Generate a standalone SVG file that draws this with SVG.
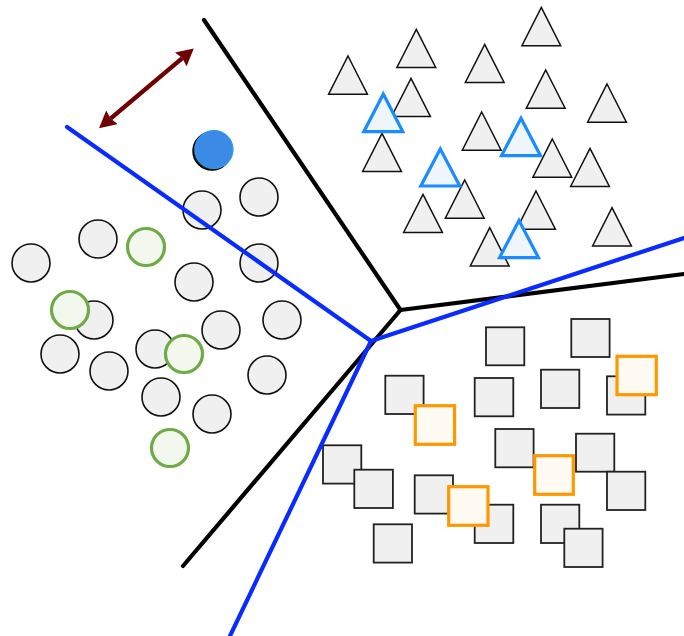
<svg xmlns="http://www.w3.org/2000/svg" width="684" height="636" viewBox="0 0 684 636">
<style>
.c{fill:#f0f0f0;stroke:#111;stroke-width:1.6}
.cg{fill:#f2f8ee;stroke:#6fab45;stroke-width:3.2}
.t{fill:#f0f0f0;stroke:#111;stroke-width:1.5;stroke-linejoin:miter}
.tb{fill:#eef6fc;stroke:#1a8cff;stroke-width:3.2;stroke-linejoin:miter}
.s{fill:#f0f0f0;stroke:#222;stroke-width:1.8}
.so{fill:#fffbf3;stroke:#ff9800;stroke-width:3.2}
.bk{stroke:#000;stroke-width:4.2;fill:none;stroke-linecap:round;stroke-linejoin:round}
.bl{stroke:#0a2bff;stroke-width:4.2;fill:none;stroke-linecap:round;stroke-linejoin:round}
</style>
<defs>
<marker id="ah" viewBox="0 0 17 18" refX="2" refY="9" markerWidth="17" markerHeight="18" markerUnits="userSpaceOnUse" orient="auto-start-reverse">
<path d="M0,0 L17,9 L0,18 L2,9 z" fill="#700000"/>
</marker>
</defs>
<g id="circles">
<circle class="c" cx="259" cy="197" r="19"/>
<circle class="c" cx="202" cy="210" r="19"/>
<circle class="c" cx="98" cy="239" r="19"/>
<circle class="c" cx="31" cy="263" r="19"/>
<circle class="c" cx="194" cy="282" r="19"/>
<circle class="c" cx="259" cy="263" r="19"/>
<circle class="c" cx="282" cy="320" r="19"/>
<circle class="c" cx="221" cy="330" r="19"/>
<circle class="c" cx="94" cy="320" r="19"/>
<circle class="c" cx="60" cy="354" r="19"/>
<circle class="c" cx="109" cy="371" r="19"/>
<circle class="c" cx="155" cy="349" r="19"/>
<circle class="c" cx="267" cy="375" r="19"/>
<circle class="c" cx="161" cy="397" r="19"/>
<circle class="c" cx="212" cy="414" r="19"/>
<circle class="cg" cx="146" cy="247" r="18.5"/>
<circle class="cg" cx="70" cy="310" r="18.5"/>
<circle class="cg" cx="184" cy="354" r="18.5"/>
<circle class="cg" cx="170" cy="448" r="18.5"/>
<circle cx="212" cy="151" r="19" fill="#333" stroke="#000" stroke-width="1.5"/>
<circle cx="214" cy="149.5" r="19" fill="#3b8ae6" stroke="#2a9df4" stroke-width="1.2"/>
</g>
<g id="triangles">
<path class="t" d="M541.3,7.3 L560.7,45.7 L521.9,45.7 Z"/>
<path class="t" d="M416.3,29.3 L435.7,67.5 L396.9,67.5 Z"/>
<path class="t" d="M484.7,44.3 L504.1,82.5 L465.3,82.5 Z"/>
<path class="t" d="M348,56 L367.4,94.2 L328.6,94.2 Z"/>
<path class="t" d="M411,78.3 L430.4,116.5 L391.6,116.5 Z"/>
<path class="t" d="M545.7,70 L565.1,108.2 L526.3,108.2 Z"/>
<path class="t" d="M607,84 L626.4,122.2 L587.6,122.2 Z"/>
<path class="t" d="M382,133.3 L401.4,171.5 L362.6,171.5 Z"/>
<path class="t" d="M481.7,112 L501.1,150.2 L462.3,150.2 Z"/>
<path class="t" d="M552.3,139 L571.7,177.2 L532.9,177.2 Z"/>
<path class="t" d="M590,148.3 L609.4,186.5 L570.6,186.5 Z"/>
<path class="t" d="M464.7,180 L484.1,218.2 L445.3,218.2 Z"/>
<path class="t" d="M423,194.3 L442.4,232.5 L403.6,232.5 Z"/>
<path class="t" d="M536,191 L555.4,229.2 L516.6,229.2 Z"/>
<path class="t" d="M612,207.7 L631.4,245.9 L592.6,245.9 Z"/>
<path class="t" d="M489.7,227.7 L509.1,265.9 L470.3,265.9 Z"/>
<path class="tb" d="M383.3,94 L402.8,131.7 L363.8,131.7 Z"/>
<path class="tb" d="M521,118.3 L540.5,155.7 L501.5,155.7 Z"/>
<path class="tb" d="M440.3,149 L459.8,186 L420.8,186 Z"/>
<path class="tb" d="M519,220.5 L538.5,257.7 L499.5,257.7 Z"/>
</g>
<g id="squares">
<rect class="s" x="486" y="327.3" width="38.3" height="38"/>
<rect class="s" x="571.3" y="319" width="38.3" height="38"/>
<rect class="s" x="385.3" y="375.7" width="38.3" height="38.3"/>
<rect class="s" x="474.7" y="378" width="38.6" height="38.3"/>
<rect class="s" x="541" y="369.7" width="38.3" height="38.3"/>
<rect class="s" x="607" y="376.3" width="38.3" height="38.3"/>
<rect class="s" x="495.3" y="429" width="38.3" height="38.3"/>
<rect class="s" x="576" y="433.7" width="38.3" height="38"/>
<rect class="s" x="323" y="445.3" width="38.3" height="38.3"/>
<rect class="s" x="354.3" y="469.7" width="38.6" height="38.3"/>
<rect class="s" x="414.7" y="475.3" width="38.3" height="38.3"/>
<rect class="s" x="474.7" y="504.7" width="38.6" height="38.3"/>
<rect class="s" x="541" y="504.7" width="38.3" height="38.3"/>
<rect class="s" x="607" y="471.7" width="38.3" height="38.3"/>
<rect class="s" x="373.7" y="524.3" width="38.3" height="38.3"/>
<rect class="s" x="564.3" y="528.7" width="38.3" height="38.3"/>
<rect class="so" x="617" y="356.3" width="39.3" height="38.4"/>
<rect class="so" x="415.3" y="405.7" width="39.3" height="38.6"/>
<rect class="so" x="534.7" y="455.7" width="38.6" height="38.6"/>
<rect class="so" x="448.7" y="486.7" width="39.3" height="38.6"/>
</g>
<g id="connectors">
<path class="bk" d="M204,20 L400.5,310 L684,274"/>
<path class="bk" d="M400.5,310 L183,566"/>
<path class="bl" d="M67,127 L371,341 L684,238"/>
<path class="bl" d="M371,341 L229,638"/>
<line x1="110.5" y1="118.6" x2="182.3" y2="58.1" stroke="#700000" stroke-width="4.5" marker-start="url(#ah)" marker-end="url(#ah)"/>
</g>
</svg>
